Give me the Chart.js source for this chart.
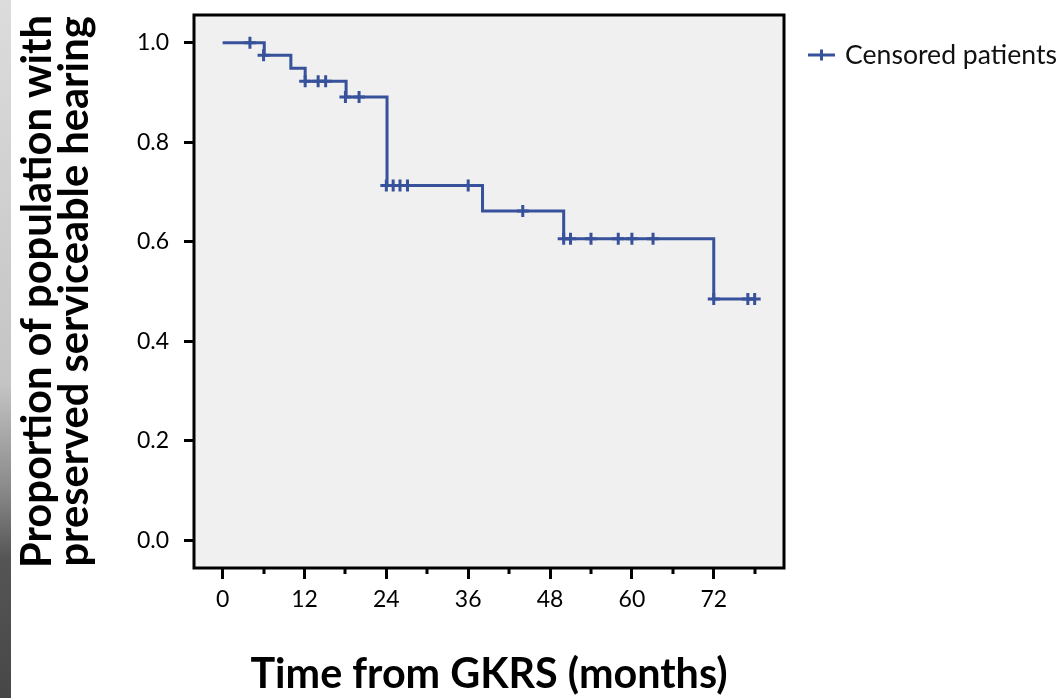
<!DOCTYPE html>
<html>
<head>
<meta charset="utf-8">
<style>
html,body{margin:0;padding:0;background:#fff;overflow:hidden}
#wrap{position:relative;width:1061px;height:698px}
#edge{position:absolute;left:0;top:0;width:11px;height:698px;
  background:linear-gradient(to bottom,#dcdcdc 0%,#c4c4c4 55%,#8a8a8a 70%,#555 80%,#474747 100%)}
canvas{position:absolute;left:0;top:0}
</style>
<script src="https://cdn.jsdelivr.net/npm/chart.js@4.4.1/dist/chart.umd.min.js"></script>
</head>
<body>
<div id="wrap"><div id="edge"></div><canvas id="c" width="1061" height="698"></canvas></div>
<script>
// ---- data ----
const eventTimes   = [0, 6.1, 10.0, 12.1, 18.1, 24.1, 38.1, 50.0, 72.0, 78.0];
const survival     = [1.0, 0.975, 0.949, 0.923, 0.891, 0.713, 0.662, 0.606, 0.485, 0.485];
const censorTimes  = [4.0, 6.0, 12.1, 14.0, 15.1, 18.0, 20.0, 24.0, 25.0, 26.0, 27.1, 36.0, 44.0, 50.0, 51.0, 54.0, 58.0, 60.0, 63.1, 72.0, 77.0, 78.0];
const censorValues = [1.0, 0.975, 0.923, 0.923, 0.923, 0.891, 0.891, 0.713, 0.713, 0.713, 0.713, 0.713, 0.662, 0.606, 0.606, 0.606, 0.606, 0.606, 0.606, 0.485, 0.485, 0.485];
const xMajorTicks  = [0, 12, 24, 36, 48, 60, 72];
const xMinorTicks  = [6, 18, 30, 42, 54, 66, 78];
const yTicks       = [0, 0.2, 0.4, 0.6, 0.8, 1.0];
const xTitle       = 'Time from GKRS (months)';
const yTitle       = ['Proportion of population with', 'preserved serviceable hearing'];
const legendLabel  = 'Censored patients';

// ---- styles ----
const FONT = "Lato, 'Open Sans', 'DejaVu Sans', sans-serif";
const BLUE = '#37529b';
const TICK_SIZE = 23;
function fit(text, weight, target) {
  const c = document.createElement('canvas').getContext('2d');
  c.font = weight + ' 100px ' + FONT;
  return 100 * target / c.measureText(text).width;
}
const xTitleSize = fit(xTitle, 'bold', 477);
const yTitleSize = fit(yTitle[0], 'bold', 553);
const legendSize = fit(legendLabel, 'normal', 212);

const plotBg = {
  id: 'plotBg',
  beforeDraw(chart) {
    const {ctx, chartArea: a} = chart;
    ctx.save();
    ctx.fillStyle = '#f0f0f0';
    ctx.fillRect(a.left, a.top, a.right - a.left, a.bottom - a.top);
    ctx.restore();
  }
};
const frame = {
  id: 'frame',
  afterDraw(chart) {
    const {ctx, chartArea: a} = chart;
    const xs = chart.scales.x;
    ctx.save();
    ctx.strokeStyle = '#000';
    ctx.lineWidth = 3;
    ctx.strokeRect(a.left, a.top, a.right - a.left, a.bottom - a.top);
    // minor x ticks
    ctx.beginPath();
    xMinorTicks.forEach(v => {
      const px = Math.round(xs.getPixelForValue(v));
      ctx.moveTo(px, a.bottom);
      ctx.lineTo(px, a.bottom + 6);
    });
    ctx.stroke();
    // legend
    const lx = 808, ly = 55;
    ctx.strokeStyle = BLUE;
    ctx.lineWidth = 3;
    ctx.beginPath();
    ctx.moveTo(lx, ly); ctx.lineTo(lx + 27, ly);
    ctx.moveTo(lx + 13.5, ly - 5.5); ctx.lineTo(lx + 13.5, ly + 5.5);
    ctx.stroke();
    ctx.fillStyle = '#111';
    ctx.font = 'normal ' + legendSize + 'px ' + FONT;
    ctx.textBaseline = 'middle';
    ctx.textAlign = 'left';
    ctx.fillText(legendLabel, 845, ly);
    ctx.restore();
  }
};

Chart.defaults.font.family = FONT;

new Chart(document.getElementById('c'), {
  type: 'line',
  data: {
    datasets: [
      {
        label: 'Survival',
        data: eventTimes.map((t, i) => ({x: t, y: survival[i]})),
        stepped: 'before',
        borderColor: BLUE,
        borderWidth: 3,
        borderJoinStyle: 'miter',
        pointRadius: 0,
        fill: false
      },
      {
        label: legendLabel,
        data: censorTimes.map((t, i) => ({x: t, y: censorValues[i]})),
        showLine: false,
        pointStyle: 'cross',
        pointRadius: 6,
        pointBorderWidth: 3,
        borderColor: BLUE,
        pointBorderColor: BLUE,
        pointHoverRadius: 6
      }
    ]
  },
  options: {
    responsive: false,
    animation: false,
    devicePixelRatio: 1,
    layout: {padding: {left: 0, right: 277, top: 15, bottom: 0}},
    plugins: {legend: {display: false}, tooltip: {enabled: false}},
    events: [],
    scales: {
      x: {
        type: 'linear',
        min: -4.2,
        max: 82.3,
        afterBuildTicks: s => { s.ticks = xMajorTicks.map(v => ({value: v})); },
        afterFit: s => { s.height = 130; s.paddingLeft = 0; s.paddingRight = 0; },
        grid: {drawOnChartArea: false, drawTicks: true, tickLength: 11, tickWidth: 3, tickColor: '#000'},
        border: {display: false},
        ticks: {font: {size: TICK_SIZE}, color: '#000', padding: 7, maxRotation: 0, autoSkip: false,
                callback: v => String(v)},
        title: {display: true, text: xTitle, color: '#000',
                font: {weight: 'bold', size: xTitleSize, lineHeight: 1},
                padding: {top: 0, bottom: 3}}
      },
      y: {
        type: 'linear',
        min: -0.056,
        max: 1.056,
        afterBuildTicks: s => { s.ticks = yTicks.map(v => ({value: v})); },
        afterFit: s => { s.width = 194; s.paddingTop = 0; s.paddingBottom = 0; },
        grid: {drawOnChartArea: false, drawTicks: true, tickLength: 10, tickWidth: 3, tickColor: '#000'},
        border: {display: false},
        ticks: {font: {size: TICK_SIZE}, color: '#000', padding: 15, callback: v => Number(v).toFixed(1)},
        title: {display: true, text: yTitle, color: '#000',
                font: {weight: 'bold', size: yTitleSize, lineHeight: 37 / yTitleSize},
                padding: {top: 19.5, bottom: 0}}
      }
    }
  },
  plugins: [plotBg, frame]
});
</script>
</body>
</html>
